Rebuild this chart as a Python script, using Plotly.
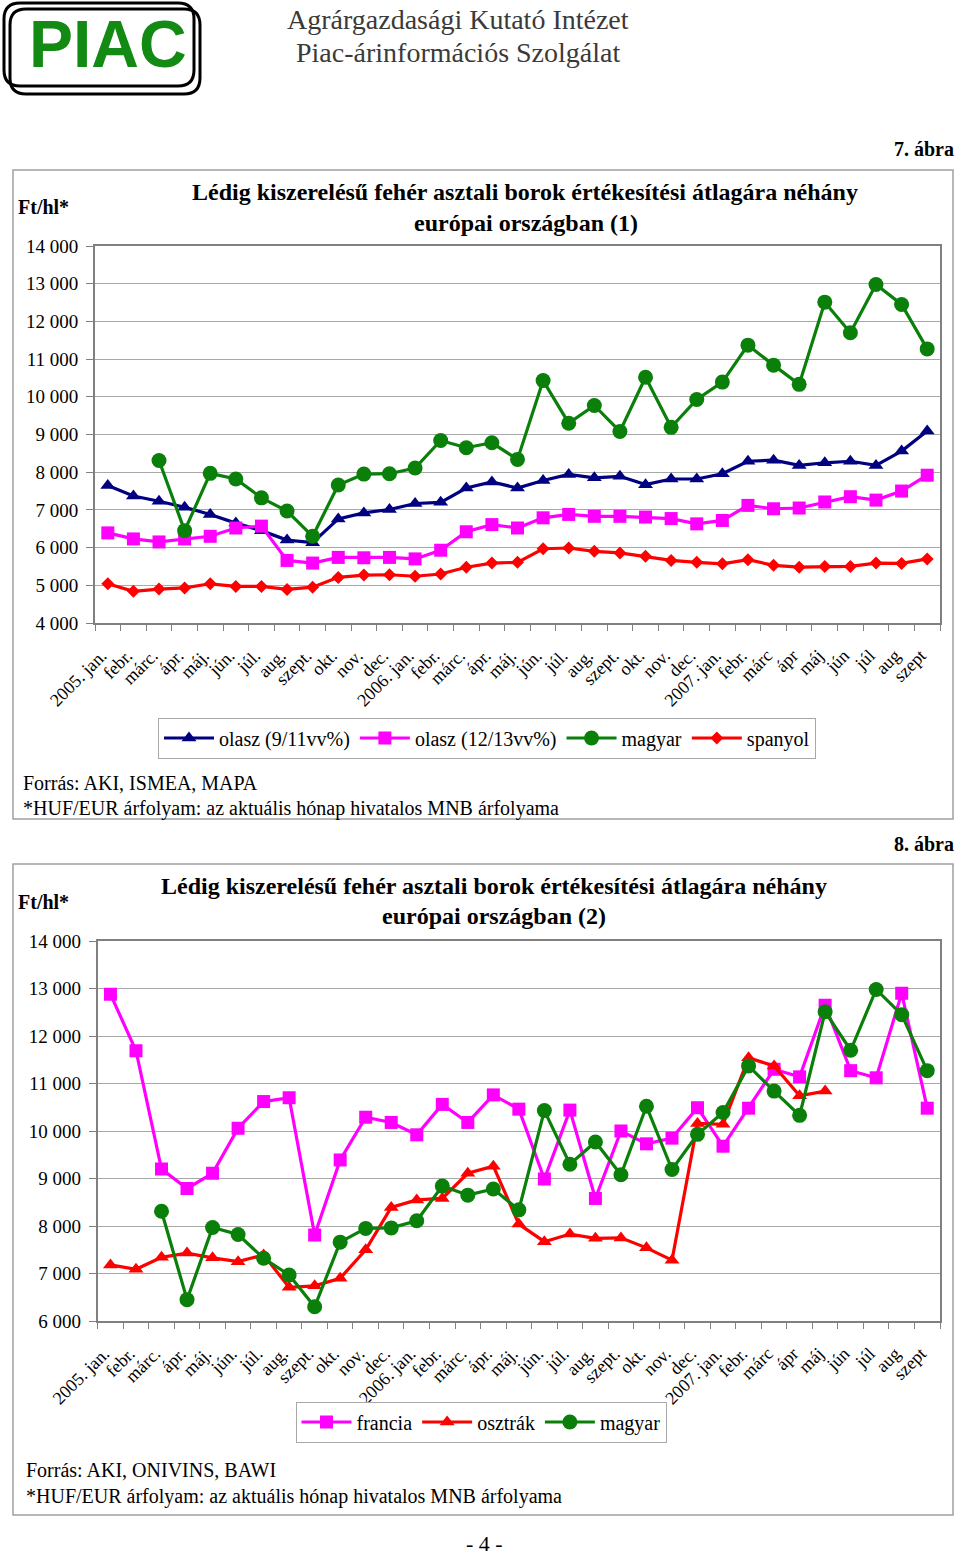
import plotly.graph_objects as go

W, H = 960, 1555

# ---------------- data ----------------
months = list(range(33))
month_labels = ["2005. jan.", "febr.", "márc.", "ápr.", "máj.", "jún.", "júl.", "aug.", "szept.", "okt.", "nov.", "dec.",
                "2006. jan.", "febr.", "márc.", "ápr.", "máj.", "jún.", "júl.", "aug.", "szept.", "okt.", "nov.", "dec.",
                "2007. jan.", "febr.", "márc", "ápr", "máj", "jún", "júl", "aug", "szept"]

olasz_9_11 = [7650, 7370, 7230, 7070, 6880, 6650, 6450, 6200, 6130, 6760, 6920, 7010, 7170, 7200, 7580, 7740, 7580,
              7780, 7940, 7850, 7890, 7670, 7820, 7820, 7960, 8290, 8320, 8180, 8250, 8290, 8180, 8560, 9090]
olasz_12_13 = [6390, 6230, 6150, 6230, 6300, 6520, 6570, 5660, 5590, 5740, 5730, 5740, 5700, 5930, 6420, 6610, 6520,
               6790, 6880, 6830, 6830, 6810, 6770, 6630, 6720, 7120, 7030, 7050, 7210, 7350, 7260, 7500, 7920]
magyar = [None, None, 8310, 6450, 7970, 7820, 7320, 6970, 6300, 7660, 7950, 7960, 8110, 8840, 8650, 8780, 8340,
          10430, 9300, 9770, 9080, 10520, 9190, 9930, 10390, 11370, 10840, 10330, 12510, 11700, 12980, 12450, 11270]
spanyol = [5040, 4840, 4900, 4930, 5040, 4970, 4970, 4890, 4950, 5210, 5270, 5280, 5240, 5300, 5480, 5590, 5610,
           5970, 5990, 5900, 5860, 5770, 5660, 5610, 5570, 5680, 5530, 5480, 5500, 5500, 5590, 5580, 5700]
francia = [12880, 11690, 9200, 8790, 9110, 10060, 10620, 10700, 7810, 9390, 10290, 10180, 9920, 10560, 10180, 10760,
           10460, 8990, 10440, 8580, 10000, 9730, 9850, 10490, 9680, 10480, 11300, 11140, 12650, 11270, 11120, 12900, 10480]
osztrak = [7180, 7090, 7340, 7430, 7330, 7250, 7390, 6710, 6740, 6900, 7500, 8390, 8550, 8580, 9110, 9260, 8040,
           7670, 7830, 7740, 7750, 7540, 7280, 10160, 10140, 11540, 11370, 10740, 10840, None, None, None, None]

y1_ticks = [4000, 5000, 6000, 7000, 8000, 9000, 10000, 11000, 12000, 13000, 14000]
y2_ticks = [6000, 7000, 8000, 9000, 10000, 11000, 12000, 13000, 14000]

NAVY, MAG, GREEN, RED = "#000080", "#FF00FF", "#0a800a", "#FF0000"
SERIF = "Liberation Serif"


def px(x):
    return x / W


def py(y):
    return 1 - y / H


fig = go.Figure()


def add(y, name, color, symbol, size, xa, ya, legend):
    fig.add_trace(go.Scatter(
        x=months, y=y, name=name, mode="lines+markers", xaxis=xa, yaxis=ya, legend=legend,
        line=dict(color=color, width=3.2),
        marker=dict(color=color, symbol=symbol, size=size, line=dict(width=0)),
        connectgaps=False, hoverinfo="skip"))


add(olasz_9_11, "olasz (9/11vv%)", NAVY, "triangle-up", 13, "x", "y", "legend")
add(olasz_12_13, "olasz (12/13vv%)", MAG, "square", 13, "x", "y", "legend")
add(magyar, "magyar", GREEN, "circle", 15, "x", "y", "legend")
add(spanyol, "spanyol", RED, "diamond", 10, "x", "y", "legend")

add(francia, "francia", MAG, "square", 13, "x2", "y2", "legend2")
add(osztrak, "osztrák", RED, "triangle-up", 13, "x2", "y2", "legend2")
add(magyar, "magyar", GREEN, "circle", 15, "x2", "y2", "legend2")


def xaxis_cfg(x0, x1, anchor):
    return dict(domain=[px(x0), px(x1)], range=[-0.5, 32.5], anchor=anchor, automargin=False,
                tickmode="array", tickvals=[m - 0.25 for m in months], ticktext=month_labels, tickangle=-45,
                ticks="", ticklabelstandoff=13, showgrid=False, zeroline=False, showline=True, mirror=True,
                linecolor="#808080", linewidth=2, tickfont=dict(family=SERIF, size=18, color="black"),
                minor=dict(tickmode="array", tickvals=[i - 0.5 for i in range(34)], ticks="outside",
                           ticklen=6, tickcolor="#808080", tickwidth=1, showgrid=False),
                fixedrange=True)


def yaxis_cfg(y0, y1, rng, tv, anchor):
    return dict(domain=[py(y1), py(y0)], range=rng, anchor=anchor, automargin=False, tickmode="array", tickvals=tv,
                tickformat=",d", showgrid=True, gridcolor="#a8a8a8", gridwidth=1.2, zeroline=False,
                ticks="outside", ticklen=7, tickcolor="#808080", ticklabelstandoff=4,
                showline=True, mirror=True,
                linecolor="#808080", linewidth=2, tickfont=dict(family=SERIF, size=19, color="black"),
                fixedrange=True)


def legend_cfg(xc, yc):
    return dict(x=px(xc), y=py(yc), xanchor="center", yanchor="middle", orientation="h",
                bgcolor="white", bordercolor="#a8a8a8", borderwidth=1,
                font=dict(family=SERIF, size=20, color="black"), itemwidth=50, tracegroupgap=0)


fig.update_layout(
    width=W, height=H, margin=dict(l=0, r=0, t=0, b=0, autoexpand=False),
    paper_bgcolor="white", plot_bgcolor="white", separators=", ",
    font=dict(family=SERIF, color="black"),
    xaxis=xaxis_cfg(95, 940, "y"),
    yaxis=yaxis_cfg(246, 623, [4000, 14000], y1_ticks, "x"),
    xaxis2=xaxis_cfg(97.7, 940, "y2"),
    yaxis2=yaxis_cfg(941, 1321, [6000, 14000], y2_ticks, "x2"),
    legend=legend_cfg(487, 738),
    legend2=legend_cfg(481, 1422),
    showlegend=True,
)

ann = []


def text(x, y, t, size, xanchor="left", bold=False, family=SERIF, color="black"):
    ann.append(dict(x=px(x), y=py(y), xref="paper", yref="paper", text=("<b>%s</b>" % t) if bold else t,
                    showarrow=False, xanchor=xanchor, yanchor="middle",
                    font=dict(family=family, size=size, color=color)))


# header
text(108, 44, "PIAC", 66, "center", True, "Liberation Sans", "#138a13")
text(458, 20, "Agrárgazdasági Kutató Intézet", 28, "center", False, SERIF, "#3a3a3a")
text(458, 52, "Piac-árinformációs Szolgálat", 28, "center", False, SERIF, "#3a3a3a")

# chart 1
text(956, 149, "7. ábra", 20, "right", True)
text(525, 192, "Lédig kiszerelésű fehér asztali borok értékesítési átlagára néhány", 24, "center", True)
text(526, 223, "európai országban (1)", 24, "center", True)
text(16, 207, "Ft/hl*", 20, "left", True)
text(21, 783, "Forrás: AKI, ISMEA, MAPA", 20)
text(21, 808, "*HUF/EUR árfolyam: az aktuális hónap hivatalos MNB árfolyama", 20)

# chart 2
text(956, 844, "8. ábra", 20, "right", True)
text(494, 886, "Lédig kiszerelésű fehér asztali borok értékesítési átlagára néhány", 24, "center", True)
text(494, 916, "európai országban (2)", 24, "center", True)
text(16, 902, "Ft/hl*", 20, "left", True)
text(24, 1470, "Forrás: AKI, ONIVINS, BAWI", 20)
text(24, 1496, "*HUF/EUR árfolyam: az aktuális hónap hivatalos MNB árfolyama", 20)

text(484, 1543, "- 4 -", 22, "center")

fig.update_layout(annotations=ann)


def rrect(x0, y0, x1, y1, r):
    pts = []
    pts.append("M %f,%f" % (px(x0 + r), py(y0)))
    pts.append("L %f,%f" % (px(x1 - r), py(y0)))
    pts.append("Q %f,%f %f,%f" % (px(x1), py(y0), px(x1), py(y0 + r)))
    pts.append("L %f,%f" % (px(x1), py(y1 - r)))
    pts.append("Q %f,%f %f,%f" % (px(x1), py(y1), px(x1 - r), py(y1)))
    pts.append("L %f,%f" % (px(x0 + r), py(y1)))
    pts.append("Q %f,%f %f,%f" % (px(x0), py(y1), px(x0), py(y1 - r)))
    pts.append("L %f,%f" % (px(x0), py(y0 + r)))
    pts.append("Q %f,%f %f,%f" % (px(x0), py(y0), px(x0 + r), py(y0)))
    pts.append("Z")
    return " ".join(pts)


shapes = [
    dict(type="path", xref="paper", yref="paper", path=rrect(4, 3, 194, 86, 16), line=dict(color="black", width=3)),
    dict(type="path", xref="paper", yref="paper", path=rrect(10, 9, 200, 94, 16), line=dict(color="black", width=3)),
    dict(type="rect", xref="paper", yref="paper", x0=px(13), x1=px(953), y0=py(819), y1=py(170),
         line=dict(color="#a0a0a0", width=1.5), layer="below"),
    dict(type="rect", xref="paper", yref="paper", x0=px(13), x1=px(953), y0=py(1515), y1=py(864),
         line=dict(color="#a0a0a0", width=1.5), layer="below"),
]
fig.update_layout(shapes=shapes)

fig.write_html("out.html", config={"displayModeBar": False},
               post_script="document.body.style.margin='0';document.body.style.overflow='hidden';")
